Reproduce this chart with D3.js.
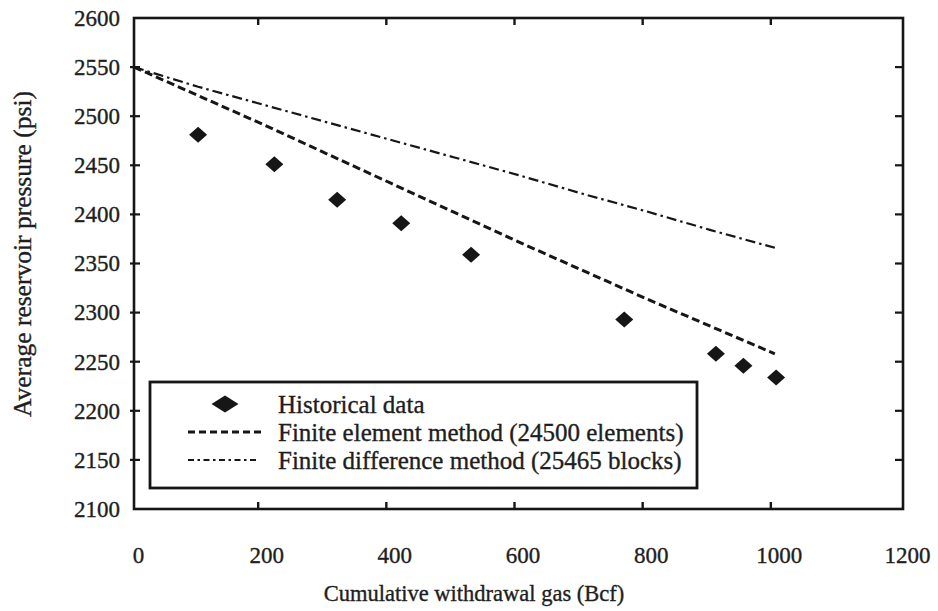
<!DOCTYPE html>
<html>
<head>
<meta charset="utf-8">
<script src="https://cdn.jsdelivr.net/npm/d3@7"></script>
<style>
  html, body { margin: 0; padding: 0; background: #fff; }
  svg { display: block; }
  text { font-family: "Liberation Serif", "Times New Roman", serif; fill: #1e1e1e; stroke: #1e1e1e; stroke-width: 0.35px; }
</style>
</head>
<body>
<svg id="chart" width="938" height="611"></svg>
<script>
// Cumulative gas withdrawal (Bcf) vs. average reservoir pressure (psi)
const xTicks = [0, 200, 400, 600, 800, 1000, 1200];
const yTicks = [2100, 2150, 2200, 2250, 2300, 2350, 2400, 2450, 2500, 2550, 2600];

// Field measurements
const histX = [100, 219, 317, 417, 526, 765, 908, 951, 1002];
const histY = [2481, 2451, 2415, 2391, 2359, 2293, 2258, 2246, 2234];

// Finite element simulation (24500 elements)
const femX = [0, 100, 200, 300, 400, 500, 600, 700, 800, 900, 1000];
const femY = [2550, 2521, 2492, 2462, 2432, 2402, 2372, 2343, 2314, 2286, 2258];

// Finite difference simulation (25465 blocks)
const fdmX = [0, 100, 200, 300, 400, 500, 600, 700, 800, 900, 1000];
const fdmY = [2550, 2530, 2512, 2494, 2476, 2458, 2440, 2421, 2403, 2384, 2366];

const legendLabels = [
  "Historical data",
  "Finite element method (24500 elements)",
  "Finite difference method (25465 blocks)"
];

const svg = d3.select("#chart");
const ink = "#161616";
const box = { left: 134, right: 903, top: 18, bottom: 509 };

const x = d3.scaleLinear().domain([0, 1200]).range([box.left, box.right]);
const y = d3.scaleLinear().domain([2100, 2600]).range([box.bottom, box.top]);

const inner = xTicks.slice(1, -1);
const innerY = yTicks.slice(1, -1);

// Frame
svg.append("rect")
  .attr("x", box.left).attr("y", box.top)
  .attr("width", box.right - box.left).attr("height", box.bottom - box.top)
  .attr("fill", "none").attr("stroke", ink).attr("stroke-width", 2.6);

// Bottom axis: inward ticks, labels below
const bottom = svg.append("g").attr("transform", `translate(0,${box.bottom})`)
  .call(d3.axisBottom(x).tickValues(xTicks).tickSize(0).tickPadding(0).tickFormat(d3.format("d")));
bottom.select(".domain").remove();
bottom.selectAll(".tick text")
  .attr("dy", "0").attr("y", 54).attr("dx", 4)
  .style("font-size", "23px");
svg.append("g").selectAll("line").data(inner).join("line")
  .attr("x1", d => x(d) - 4).attr("x2", d => x(d) - 4)
  .attr("y1", box.bottom).attr("y2", box.bottom - 7)
  .attr("stroke", ink).attr("stroke-width", 2.4);

// Top ticks
svg.append("g").selectAll("line").data(inner).join("line")
  .attr("x1", d => x(d) - 4).attr("x2", d => x(d) - 4)
  .attr("y1", box.top).attr("y2", box.top + 7)
  .attr("stroke", ink).attr("stroke-width", 2.4);

// Left axis: labels and ticks
const left = svg.append("g").attr("transform", `translate(${box.left},0)`)
  .call(d3.axisLeft(y).tickValues(yTicks).tickSize(0).tickPadding(14).tickFormat(d3.format("d")));
left.select(".domain").remove();
left.selectAll(".tick text").style("font-size", "23px");
svg.append("g").selectAll("line").data(innerY).join("line")
  .attr("x1", box.left - 4).attr("x2", box.left + 6)
  .attr("y1", d => y(d)).attr("y2", d => y(d))
  .attr("stroke", ink).attr("stroke-width", 2.2);

// Right ticks
svg.append("g").selectAll("line").data(innerY).join("line")
  .attr("x1", box.right).attr("x2", box.right - 8)
  .attr("y1", d => y(d)).attr("y2", d => y(d))
  .attr("stroke", ink).attr("stroke-width", 2.2);

// Axis titles
svg.append("text")
  .attr("x", 474).attr("y", 601)
  .attr("text-anchor", "middle").style("font-size", "22.5px")
  .text("Cumulative withdrawal gas (Bcf)");
svg.append("text")
  .attr("transform", "translate(31,254) rotate(-90)")
  .attr("text-anchor", "middle").style("font-size", "25.5px")
  .text("Average reservoir pressure (psi)");

// Simulation curves
const line = d3.line().x(d => x(d[0])).y(d => y(d[1]));
svg.append("path")
  .datum(fdmX.map((v, i) => [v, fdmY[i]]))
  .attr("d", line).attr("fill", "none").attr("stroke", ink)
  .attr("stroke-width", 2.2).attr("stroke-dasharray", "10,4,2.5,4");
svg.append("path")
  .datum(femX.map((v, i) => [v, femY[i]]))
  .attr("d", line).attr("fill", "none").attr("stroke", ink)
  .attr("stroke-width", 3).attr("stroke-dasharray", "8,4");

// Historical points as diamonds
const diamond = (w, h) => `M0,${-h}L${w},0L0,${h}L${-w},0Z`;
svg.append("g").selectAll("path").data(histX.map((v, i) => [v, histY[i]])).join("path")
  .attr("transform", d => `translate(${x(d[0])},${y(d[1])})`)
  .attr("d", diamond(9, 8)).attr("fill", ink);

// Legend
const lg = { x: 150, y: 382, w: 547, h: 106 };
svg.append("rect")
  .attr("x", lg.x).attr("y", lg.y).attr("width", lg.w).attr("height", lg.h)
  .attr("fill", "#fff").attr("stroke", ink).attr("stroke-width", 2.8);
const rowY = [404, 432, 460];
svg.append("path").attr("transform", `translate(225,${rowY[0]})`)
  .attr("d", diamond(13.5, 8.5)).attr("fill", ink);
svg.append("line").attr("x1", 188).attr("x2", 263).attr("y1", rowY[1]).attr("y2", rowY[1])
  .attr("stroke", ink).attr("stroke-width", 3).attr("stroke-dasharray", "7,4");
svg.append("line").attr("x1", 188).attr("x2", 257).attr("y1", rowY[2]).attr("y2", rowY[2])
  .attr("stroke", ink).attr("stroke-width", 2.2).attr("stroke-dasharray", "6,3.5,2.5,3.5");
svg.append("g").selectAll("text").data(legendLabels).join("text")
  .attr("x", 278).attr("y", (d, i) => rowY[i] + 9)
  .style("font-size", "25px")
  .text(d => d);
</script>
</body>
</html>
